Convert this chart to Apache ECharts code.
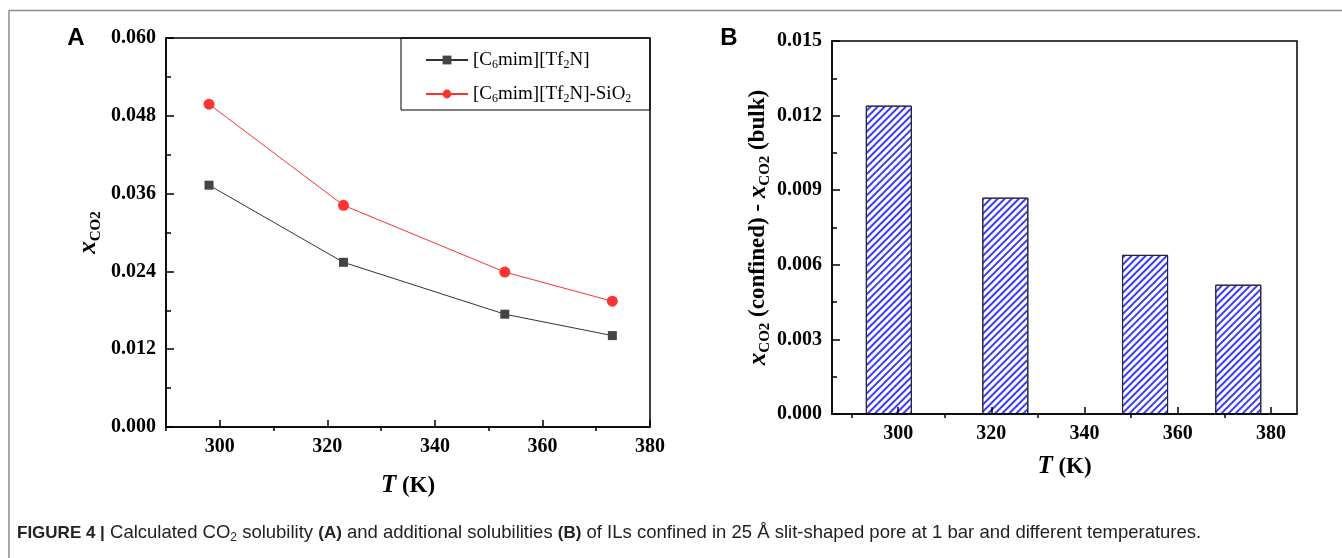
<!DOCTYPE html>
<html><head><meta charset="utf-8">
<script src="https://cdn.jsdelivr.net/npm/echarts@6/dist/echarts.min.js"></script>
<style>html,body{margin:0;padding:0;background:#fff}#c{width:1342px;height:558px}</style>
</head><body><div id="c"></div>
<script>
// ---- data ----
const temps = [298, 323, 353, 373];
const bulk = [0.0373, 0.0254, 0.0174, 0.0141];
const confined = [0.0498, 0.0342, 0.0239, 0.0194];
const extra = [0.0124, 0.0087, 0.0064, 0.0052];
const xMajorTicks = [300, 320, 340, 360, 380];
const xMinorTicks = [290, 310, 330, 350, 370];
const seriesNames = ['[C6mim][Tf2N]', '[C6mim][Tf2N]-SiO2'];

const serif = 'Liberation Serif';
const sans = 'Liberation Sans';

const pair = (xs, ys) => xs.map((x, i) => [x, ys[i]]);
const lab = { fontFamily: serif, fontWeight: 'bold', fontSize: 20, color: '#000' };
const nameRich = {
  i: { fontFamily: serif, fontStyle: 'italic', fontWeight: 'bold', fontSize: 25, color: '#000', lineHeight: 30 },
  s: { fontFamily: serif, fontWeight: 'bold', fontSize: 15, color: '#000', verticalAlign: 'bottom', lineHeight: 16 },
  n: { fontFamily: serif, fontWeight: 'bold', fontSize: 23, color: '#000', lineHeight: 30 }
};

function mainX(gi, min, max, name, gap) {
  return {
    type: 'value', gridIndex: gi, min: min, max: max, z: 5,
    axisLine: { show: true, onZero: false, lineStyle: { color: '#000', width: 1.5 } },
    axisTick: { show: true, inside: true, length: 7, customValues: xMajorTicks, lineStyle: { color: '#000', width: 1.5 } },
    axisLabel: { show: true, customValues: xMajorTicks, margin: 10, ...lab },
    splitLine: { show: false },
    name: name, nameLocation: 'middle', nameGap: gap,
    nameTextStyle: { rich: nameRich }
  };
}
function minorX(gi, min, max) {
  return {
    type: 'value', gridIndex: gi, min: min, max: max, z: 5,
    axisLine: { show: false },
    axisTick: { show: true, inside: true, length: 4, customValues: xMinorTicks, lineStyle: { color: '#000', width: 1.5 } },
    axisLabel: { show: false },
    splitLine: { show: false }
  };
}
function mainY(gi, max, interval, name, gap) {
  return {
    type: 'value', gridIndex: gi, min: 0, max: max, interval: interval, z: 5,
    axisLine: { show: true, onZero: false, lineStyle: { color: '#000', width: 1.5 } },
    axisTick: { show: true, inside: true, length: 8, lineStyle: { color: '#000', width: 1.5 } },
    minorTick: { show: true, splitNumber: 2, length: 5, lineStyle: { color: '#000', width: 1.5 } },
    axisLabel: { margin: 10, formatter: v => v.toFixed(3), ...lab },
    splitLine: { show: false },
    name: name, nameLocation: 'middle', nameGap: gap, nameRotate: 90,
    nameTextStyle: { rich: nameRich }
  };
}

const chart = echarts.init(document.getElementById('c'), null, { renderer: 'canvas' });
chart.setOption({
  animation: false,
  backgroundColor: '#fff',
  grid: [
    { left: 166, top: 38, width: 484, height: 389, show: true, borderColor: '#000', borderWidth: 1.5, containLabel: false },
    { left: 832, top: 41, width: 465, height: 373, show: true, borderColor: '#000', borderWidth: 1.5, containLabel: false }
  ],
  xAxis: [
    mainX(0, 290, 380, '{i|T}{n| (K)}', 44),
    minorX(0, 290, 380),
    mainX(1, 285.8, 385.6, '{i|T}{n| (K)}', 38),
    minorX(1, 285.8, 385.6)
  ],
  yAxis: [
    mainY(0, 0.06, 0.012, '{i|x}{s|CO2}', 62),
    mainY(1, 0.015, 0.003, '{i|x}{s|CO2}{n| (confined) - }{i|x}{s|CO2}{n| (bulk)}', 50)
  ],
  legend: {
    orient: 'vertical', left: 420, top: 44, itemWidth: 42, itemHeight: 11, itemGap: 12,
    data: seriesNames,
    formatter: n => n === seriesNames[0] ? '[C{s|6}mim][Tf{s|2}N]' : '[C{s|6}mim][Tf{s|2}N]-SiO{s|2}',
    textStyle: {
      fontFamily: serif, fontSize: 19, color: '#000', lineHeight: 22,
      rich: { s: { fontFamily: serif, fontSize: 12, color: '#000', verticalAlign: 'bottom', lineHeight: 14 } }
    }
  },
  series: [
    {
      name: seriesNames[0], type: 'line', xAxisIndex: 0, yAxisIndex: 0,
      data: pair(temps, bulk), symbol: 'rect', symbolSize: 9,
      lineStyle: { color: '#333', width: 1 }, itemStyle: { color: '#444' }
    },
    {
      name: seriesNames[1], type: 'line', xAxisIndex: 0, yAxisIndex: 0,
      data: pair(temps, confined), symbol: 'circle', symbolSize: 11,
      lineStyle: { color: '#ff3030', width: 1 }, itemStyle: { color: '#ff3333' }
    },
    {
      name: 'extra', type: 'bar', xAxisIndex: 2, yAxisIndex: 1,
      data: pair(temps, extra), barWidth: 46,
      itemStyle: {
        color: '#ffffff', borderColor: '#222', borderWidth: 1,
        decal: { symbol: 'rect', symbolSize: 1, color: '#3b3bff', dashArrayX: [1, 0], dashArrayY: [1.2, 2.8], rotation: -Math.PI / 4 }
      }
    }
  ],
  graphic: [
    { type: 'line', shape: { x1: 9, y1: 10.5, x2: 1342, y2: 10.5 }, style: { stroke: '#8c8c8c', lineWidth: 1.5 } },
    { type: 'line', shape: { x1: 9, y1: 10, x2: 9, y2: 558 }, style: { stroke: '#8c8c8c', lineWidth: 1.5 } },
    { type: 'rect', shape: { x: 401, y: 38, width: 249, height: 72 }, style: { fill: 'none', stroke: '#000', lineWidth: 1 }, z: 10 },
    { type: 'text', x: 76, y: 38, style: { text: 'A', fontFamily: sans, fontWeight: 'bold', fontSize: 24, fill: '#000', align: 'center', verticalAlign: 'middle' } },
    { type: 'text', x: 729, y: 38, style: { text: 'B', fontFamily: sans, fontWeight: 'bold', fontSize: 24, fill: '#000', align: 'center', verticalAlign: 'middle' } },
    { type: 'text', x: 17, y: 533, style: {
        text: '{b|FIGURE 4 |} Calculated CO{s|2} solubility {b|(A)} and additional solubilities {b|(B)} of ILs confined in 25 Å slit-shaped pore at 1 bar and different temperatures.',
        fontFamily: sans, fontSize: 18.5, fill: '#222', verticalAlign: 'middle', lineHeight: 22,
        rich: {
          b: { fontFamily: sans, fontWeight: 'bold', fontSize: 17, fill: '#222', lineHeight: 22 },
          s: { fontFamily: sans, fontSize: 12, fill: '#222', verticalAlign: 'bottom', lineHeight: 15 }
        }
      } }
  ]
});
</script>
</body></html>
